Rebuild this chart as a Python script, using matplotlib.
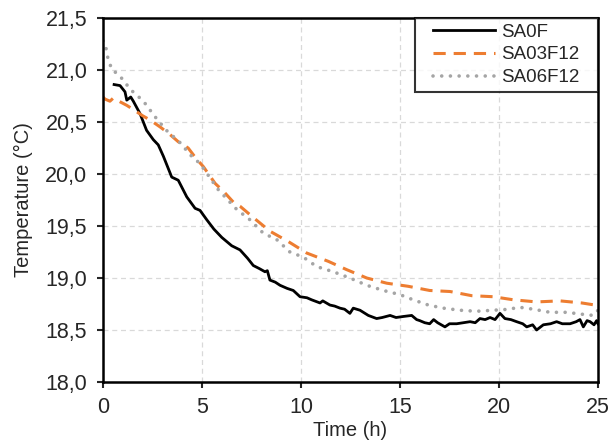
import matplotlib
matplotlib.use("Agg")
import matplotlib.pyplot as plt
from matplotlib.ticker import FixedLocator
from matplotlib.legend_handler import HandlerLine2D

plt.rcParams["font.family"] = ["Liberation Sans", "DejaVu Sans"]

# SA0F (black solid)
sa0f_t = [0.56, 0.86, 1.11, 1.2, 1.4, 1.53, 1.87, 2.2, 2.54, 2.79, 3.05, 3.47, 3.8,
          4.23, 4.65, 4.9, 5.24, 5.6, 6.0, 6.5, 6.92, 7.3, 7.59, 7.9, 8.18, 8.3,
          8.43, 8.7, 8.94, 9.3, 9.61, 9.95, 10.3, 10.54, 10.96, 11.1, 11.46, 11.7,
          11.97, 12.2, 12.47, 12.64, 12.98, 13.4, 13.82, 14.1, 14.5, 14.8, 15.17,
          15.59, 15.84, 16.0, 16.25, 16.5, 16.7, 16.9, 17.27, 17.5, 17.86, 18.2,
          18.54, 18.8, 19.04, 19.3, 19.55, 19.8, 20.05, 20.3, 20.6, 20.89, 21.2,
          21.4, 21.7, 21.9, 22.24, 22.6, 22.91, 23.2, 23.59, 23.9, 24.09, 24.26,
          24.45, 24.6, 24.8, 24.93, 25.0]
sa0f_temp = [20.86, 20.85, 20.79, 20.71, 20.74, 20.70, 20.58, 20.42, 20.33, 20.28,
             20.17, 19.97, 19.94, 19.78, 19.67, 19.65, 19.56, 19.47, 19.39, 19.31,
             19.27, 19.19, 19.12, 19.09, 19.06, 19.07, 18.98, 18.96, 18.93, 18.90,
             18.88, 18.82, 18.81, 18.79, 18.76, 18.78, 18.74, 18.73, 18.71, 18.70,
             18.66, 18.71, 18.69, 18.64, 18.61, 18.62, 18.64, 18.62, 18.63, 18.64,
             18.60, 18.59, 18.57, 18.56, 18.60, 18.57, 18.53, 18.56, 18.56, 18.57,
             18.58, 18.57, 18.61, 18.60, 18.62, 18.60, 18.66, 18.61, 18.60, 18.58,
             18.56, 18.53, 18.55, 18.50, 18.55, 18.56, 18.58, 18.56, 18.56, 18.58,
             18.60, 18.53, 18.59, 18.58, 18.55, 18.59, 18.56]

# SA03F12 (orange dashed)
sa03_t = [0.0, 0.1, 0.35, 0.52, 0.8, 1.2, 1.53, 2.0, 2.37, 2.9, 3.38, 3.8, 4.3, 4.7,
          5.07, 5.66, 6.1, 6.58, 6.92, 7.6, 8.43, 9.36, 10.29, 11.38, 12.31, 13.32,
          14.33, 15.42, 16.5, 17.53, 18.62, 19.71, 20.74, 21.9, 23.08, 24.18, 24.85,
          25.0]
sa03_temp = [20.74, 20.72, 20.70, 20.73, 20.70, 20.66, 20.62, 20.56, 20.52, 20.45,
             20.38, 20.31, 20.25, 20.15, 20.07, 19.91, 19.83, 19.73, 19.69, 19.58,
             19.45, 19.35, 19.24, 19.16, 19.08, 19.00, 18.95, 18.92, 18.88, 18.87,
             18.83, 18.82, 18.79, 18.77, 18.78, 18.76, 18.74, 18.78]

# SA06F12 (grey dotted)
sa06_t = [0.0, 0.1, 0.27, 0.47, 0.82, 1.4, 2.04, 2.63, 3.2, 3.85, 4.43, 4.9, 5.82,
          6.75, 7.42, 8.1, 8.77, 9.44, 10.12, 10.79, 11.63, 12.47, 13.32, 14.16,
          15.0, 15.67, 16.43, 17.19, 18.03, 18.87, 19.71, 20.56, 20.98, 21.74,
          22.58, 23.42, 24.26, 24.77, 25.0]
sa06_temp = [21.28, 21.26, 21.09, 21.00, 20.95, 20.81, 20.70, 20.55, 20.42, 20.31,
             20.18, 20.10, 19.85, 19.66, 19.56, 19.43, 19.37, 19.25, 19.20, 19.11,
             19.06, 19.00, 18.93, 18.88, 18.84, 18.79, 18.74, 18.71, 18.69, 18.68,
             18.69, 18.70, 18.72, 18.70, 18.67, 18.67, 18.65, 18.64, 18.69]

x_ticks = [0, 5, 10, 15, 20, 25]
y_ticks = [18.0, 18.5, 19.0, 19.5, 20.0, 20.5, 21.0, 21.5]
y_tick_labels = ["18,0", "18,5", "19,0", "19,5", "20,0", "20,5", "21,0", "21,5"]

fig = plt.figure(figsize=(6.11, 4.43), dpi=100)
ax = fig.add_axes([0.1686, 0.1377, 0.8101, 0.8217])

l1, = ax.plot(sa0f_t, sa0f_temp, color="black", lw=2.0, label="SA0F")
l2, = ax.plot(sa03_t, sa03_temp, color="#ED7D31", lw=2.2, dashes=(4, 2.6),
              label="SA03F12")
l3, = ax.plot(sa06_t, sa06_temp, color="#A5A5A5", lw=2.6, dashes=(0.01, 2.4),
              dash_capstyle="round", label="SA06F12")

ax.set_xlim(0, 25)
ax.set_ylim(18.0, 21.5)
ax.xaxis.set_major_locator(FixedLocator(x_ticks))
ax.set_yticks(y_ticks)
ax.set_yticklabels(y_tick_labels)

ax.grid(True, color="#D9D9D9", ls=(0, (4, 3)), lw=0.9)
ax.set_axisbelow(True)
for s in ax.spines.values():
    s.set_linewidth(1.8)
    s.set_color("black")
ax.tick_params(direction="out", length=4.3, width=1.5, labelsize=15.5,
               colors="#262626")
ax.tick_params(axis="x", pad=6.5)
ax.tick_params(axis="y", pad=7)

ax.set_xlabel("Time (h)", fontsize=14.5, color="#262626", labelpad=2)
ax.set_ylabel("Temperature (°C)", fontsize=14.5, color="#262626", labelpad=9)

# legend box ~183 px wide, pinned to the top-right corner
leg_w = 183 / 495
shift = HandlerLine2D(xpad=0.66)
leg = ax.legend(loc="upper right", bbox_to_anchor=(1 - leg_w, 0, leg_w, 1),
                mode="expand", fontsize=13.5, frameon=True, fancybox=False,
                borderaxespad=0, handlelength=3.97, handletextpad=0.32,
                labelspacing=0.3, borderpad=0.3,
                handler_map={l1: shift, l2: shift, l3: shift})
leg.get_frame().set_edgecolor("black")
leg.get_frame().set_linewidth(1.5)
for t in leg.get_texts():
    t.set_color("#262626")

fig.savefig("out.png", dpi=100)
plt.close(fig)
